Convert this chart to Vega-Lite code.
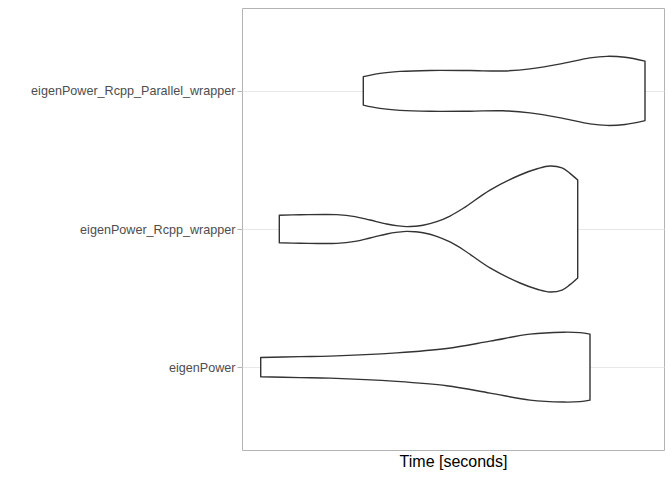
{
  "$schema": "https://vega.github.io/schema/vega-lite/v6.json",
  "width": 422,
  "height": 442,
  "autosize": {"type": "none"},
  "padding": {"left": 242, "top": 8, "right": 8, "bottom": 30},
  "background": "white",
  "config": {
    "view": {"stroke": "#b3b3b3", "strokeWidth": 1},
    "font": "Liberation Sans"
  },
  "data": {
    "values": [
      {"expr": "eigenPower_Rcpp_Parallel_wrapper", "t": 1.213, "lo": 2.897, "hi": 3.103},
      {"expr": "eigenPower_Rcpp_Parallel_wrapper", "t": 1.38, "lo": 2.873, "hi": 3.127},
      {"expr": "eigenPower_Rcpp_Parallel_wrapper", "t": 1.58, "lo": 2.859, "hi": 3.141},
      {"expr": "eigenPower_Rcpp_Parallel_wrapper", "t": 1.88, "lo": 2.852, "hi": 3.148},
      {"expr": "eigenPower_Rcpp_Parallel_wrapper", "t": 2.28, "lo": 2.853, "hi": 3.147},
      {"expr": "eigenPower_Rcpp_Parallel_wrapper", "t": 2.61, "lo": 2.856, "hi": 3.144},
      {"expr": "eigenPower_Rcpp_Parallel_wrapper", "t": 2.88, "lo": 2.841, "hi": 3.159},
      {"expr": "eigenPower_Rcpp_Parallel_wrapper", "t": 3.21, "lo": 2.801, "hi": 3.199},
      {"expr": "eigenPower_Rcpp_Parallel_wrapper", "t": 3.48, "lo": 2.761, "hi": 3.239},
      {"expr": "eigenPower_Rcpp_Parallel_wrapper", "t": 3.65, "lo": 2.750, "hi": 3.250},
      {"expr": "eigenPower_Rcpp_Parallel_wrapper", "t": 3.83, "lo": 2.757, "hi": 3.243},
      {"expr": "eigenPower_Rcpp_Parallel_wrapper", "t": 4.03, "lo": 2.785, "hi": 3.215},
      {"expr": "eigenPower_Rcpp_wrapper", "t": 0.373, "lo": 1.900, "hi": 2.100},
      {"expr": "eigenPower_Rcpp_wrapper", "t": 0.58, "lo": 1.897, "hi": 2.103},
      {"expr": "eigenPower_Rcpp_wrapper", "t": 0.947, "lo": 1.896, "hi": 2.104},
      {"expr": "eigenPower_Rcpp_wrapper", "t": 1.13, "lo": 1.910, "hi": 2.090},
      {"expr": "eigenPower_Rcpp_wrapper", "t": 1.28, "lo": 1.935, "hi": 2.065},
      {"expr": "eigenPower_Rcpp_wrapper", "t": 1.447, "lo": 1.964, "hi": 2.036},
      {"expr": "eigenPower_Rcpp_wrapper", "t": 1.56, "lo": 1.977, "hi": 2.023},
      {"expr": "eigenPower_Rcpp_wrapper", "t": 1.647, "lo": 1.983, "hi": 2.017},
      {"expr": "eigenPower_Rcpp_wrapper", "t": 1.73, "lo": 1.980, "hi": 2.020},
      {"expr": "eigenPower_Rcpp_wrapper", "t": 1.81, "lo": 1.973, "hi": 2.027},
      {"expr": "eigenPower_Rcpp_wrapper", "t": 1.947, "lo": 1.947, "hi": 2.053},
      {"expr": "eigenPower_Rcpp_wrapper", "t": 2.08, "lo": 1.906, "hi": 2.094},
      {"expr": "eigenPower_Rcpp_wrapper", "t": 2.213, "lo": 1.850, "hi": 2.150},
      {"expr": "eigenPower_Rcpp_wrapper", "t": 2.48, "lo": 1.718, "hi": 2.282},
      {"expr": "eigenPower_Rcpp_wrapper", "t": 2.78, "lo": 1.609, "hi": 2.391},
      {"expr": "eigenPower_Rcpp_wrapper", "t": 2.96, "lo": 1.562, "hi": 2.438},
      {"expr": "eigenPower_Rcpp_wrapper", "t": 3.08, "lo": 1.544, "hi": 2.456},
      {"expr": "eigenPower_Rcpp_wrapper", "t": 3.20, "lo": 1.558, "hi": 2.442},
      {"expr": "eigenPower_Rcpp_wrapper", "t": 3.28, "lo": 1.597, "hi": 2.403},
      {"expr": "eigenPower_Rcpp_wrapper", "t": 3.357, "lo": 1.645, "hi": 2.355},
      {"expr": "eigenPower", "t": 0.187, "lo": 0.930, "hi": 1.070},
      {"expr": "eigenPower", "t": 0.58, "lo": 0.924, "hi": 1.076},
      {"expr": "eigenPower", "t": 0.88, "lo": 0.920, "hi": 1.080},
      {"expr": "eigenPower", "t": 1.547, "lo": 0.8965, "hi": 1.1035},
      {"expr": "eigenPower", "t": 2.047, "lo": 0.865, "hi": 1.135},
      {"expr": "eigenPower", "t": 2.48, "lo": 0.812, "hi": 1.188},
      {"expr": "eigenPower", "t": 2.88, "lo": 0.761, "hi": 1.239},
      {"expr": "eigenPower", "t": 3.213, "lo": 0.747, "hi": 1.253},
      {"expr": "eigenPower", "t": 3.38, "lo": 0.750, "hi": 1.250},
      {"expr": "eigenPower", "t": 3.48, "lo": 0.761, "hi": 1.239}
    ]
  },
  "mark": {"type": "area", "orient": "vertical", "fill": "white", "stroke": "#333333", "strokeWidth": 1.4, "interpolate": "catmull-rom", "strokeJoin": "round"},
  "encoding": {
    "detail": {"field": "expr", "type": "nominal"},
    "x": {
      "field": "t", "type": "quantitative",
      "scale": {"domain": [0, 4.22], "nice": false, "zero": false},
      "axis": {"title": "Time [seconds]", "labels": false, "ticks": false, "domain": false, "grid": false,
               "titleFont": "Liberation Sans", "titleFontSize": 16, "titleFontWeight": "normal", "titleColor": "#000000", "titlePadding": 3}
    },
    "y": {
      "field": "lo", "type": "quantitative",
      "scale": {"domain": [0.4, 3.6], "nice": false, "zero": false},
      "axis": {
        "title": null, "values": [1, 2, 3],
        "labelExpr": "datum.value == 1 ? 'eigenPower' : datum.value == 2 ? 'eigenPower_Rcpp_wrapper' : 'eigenPower_Rcpp_Parallel_wrapper'",
        "labelFont": "Liberation Sans", "labelFontSize": 12.6, "labelColor": "#4d4d4d", "labelPadding": 2, "labelLimit": 400,
        "tickColor": "#b3b3b3", "tickSize": 5, "domain": false,
        "grid": true, "gridColor": "#e8e8e8", "gridWidth": 1
      }
    },
    "y2": {"field": "hi"}
  }
}
